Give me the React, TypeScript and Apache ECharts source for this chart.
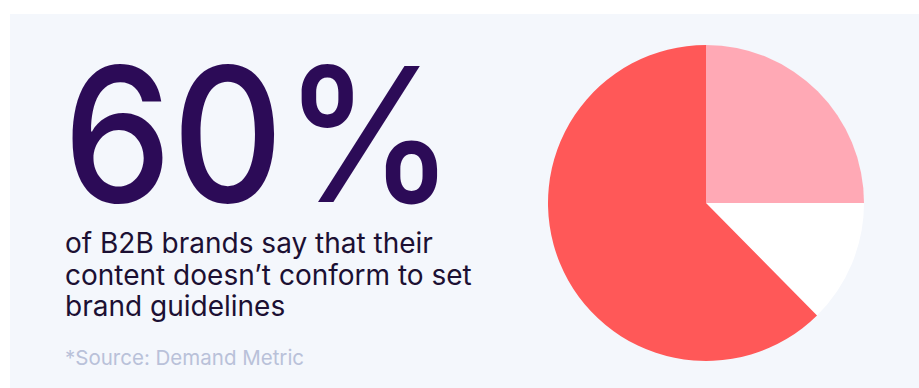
import React, { useEffect, useRef } from "react";
import * as echarts from "echarts";

const sliceNames = ["Segment A", "Segment B", "Do not conform"];
const sliceValues = [25, 12.6, 62.4];
const sliceColors = ["#FFA9B5", "#FFFFFF", "#FF5858"];
const headline = "60%";
const bodyLines = [
  "of B2B brands say that their",
  "content doesn\u2019t conform to set",
  "brand guidelines",
];
const sourceText = "*Source: Demand Metric";

export default function App() {
  const ref = useRef<HTMLDivElement>(null);
  useEffect(() => {
    if (!ref.current) return;
    const chart = echarts.init(ref.current, undefined, { renderer: "svg" });
    const font = "Inter, 'Noto Sans', sans-serif";
    chart.setOption({
      animation: false,
      backgroundColor: "#FFFFFF",
      graphic: [
        {
          type: "rect",
          shape: { x: 10, y: 14, width: 909, height: 374 },
          style: { fill: "#F4F7FC" },
          silent: true,
          z: -10,
        },
        {
          type: "text",
          x: 63,
          y: 134,
          scaleX: 0.925,
          style: {
            text: headline,
            font: `500 187px ${font}`,
            fill: "#2C0B57",
            verticalAlign: "middle",
            align: "left",
          },
        },
        ...bodyLines.map((t, i) => ({
          type: "text",
          x: 65,
          y: 243 + i * 31.5,
          style: {
            text: t,
            font: `400 28px ${font}`,
            fill: "#1C1033",
            verticalAlign: "middle",
            align: "left",
          },
        })),
        {
          type: "text",
          x: 65,
          y: 357,
          style: {
            text: sourceText,
            font: `400 20.5px ${font}`,
            fill: "#B9C1D9",
            verticalAlign: "middle",
            align: "left",
          },
        },
      ],
      series: [
        {
          type: "pie",
          center: [706, 203],
          radius: 158,
          startAngle: 90,
          clockwise: true,
          label: { show: false },
          labelLine: { show: false },
          emphasis: { disabled: true },
          itemStyle: { borderWidth: 0 },
          data: sliceNames.map((n, i) => ({
            name: n,
            value: sliceValues[i],
            itemStyle: { color: sliceColors[i] },
          })),
        },
      ],
    });
    return () => chart.dispose();
  }, []);
  return (
    <div
      ref={ref}
      style={{ position: "fixed", left: 0, top: 0, width: 919, height: 388 }}
    />
  );
}
